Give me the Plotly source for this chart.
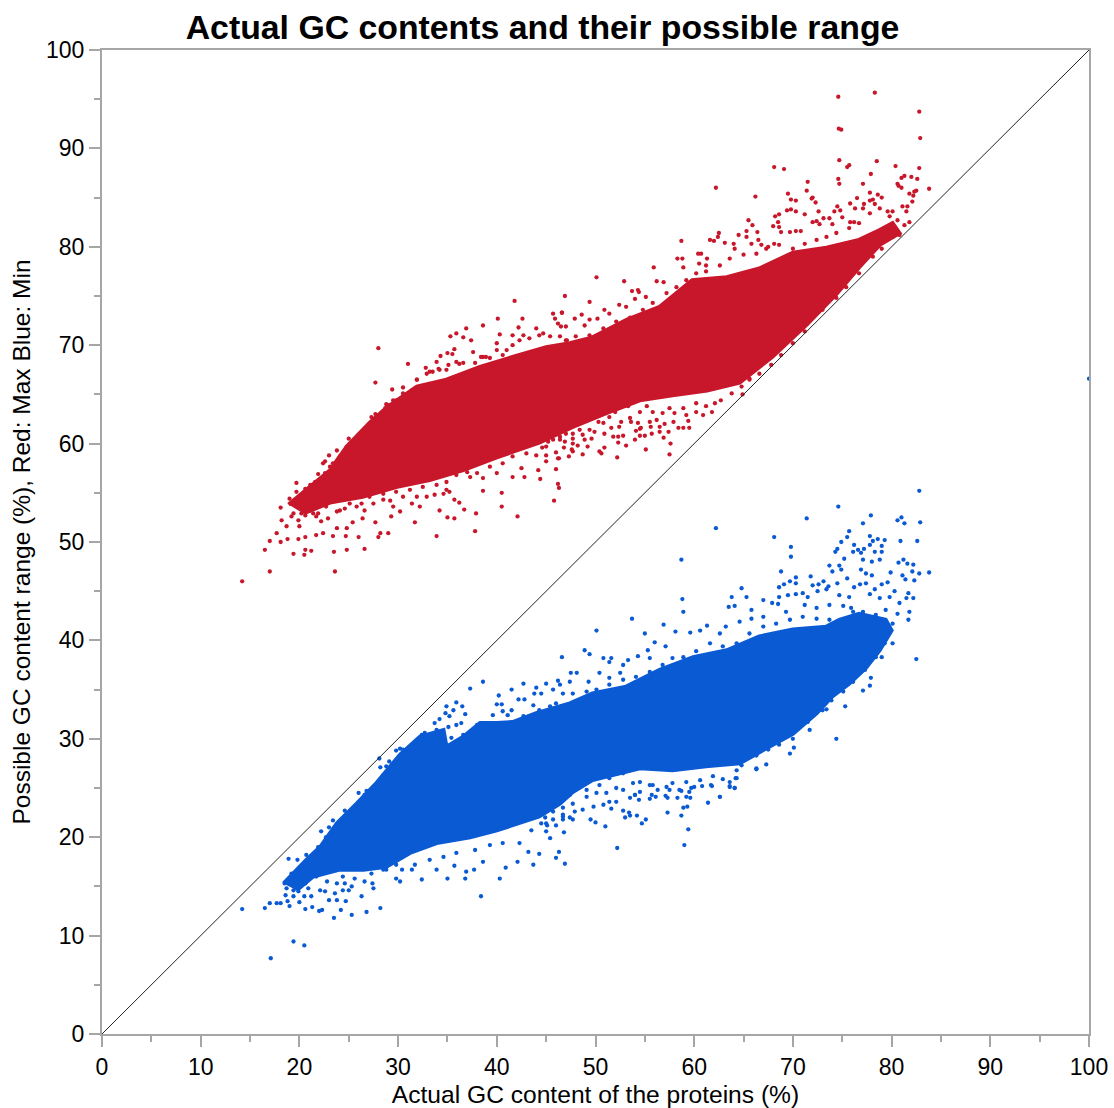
import plotly.graph_objects as go

red_body_x = [18.9,20.7,23.1,24.8,27.1,28.9,31.9,34.9,38.3,41.6,45.0,47.4,49.7,53.2,56.5,59.8,63.3,66.6,70.0,73.4,76.7,78.8,80.1,80.8,78.8,76.7,74.4,71.4,67.9,64.6,61.3,57.8,54.5,51.1,47.7,44.3,40.0,36.6,33.2,29.9,26.4,23.1,20.4]
red_body_y = [53.8,55.3,57.3,59.7,62.1,63.7,65.8,66.5,67.8,68.8,69.8,70.2,70.8,72.6,73.9,76.6,76.9,77.8,79.4,79.9,80.7,81.7,82.4,81.4,80.2,77.9,75.2,72.1,68.8,66.2,65.4,64.9,64.4,63.1,61.7,60.1,58.6,57.3,56.3,55.6,54.6,54.0,52.9]

red_x = [74.6,78.3,82.8,74.65,74.9,82.9,74.7,78.5,75.7,75.5,80.4,82.8,68.1,69.1,77.9,81.3,82.0,81.0,82.6,74.6,74.7,71.5,77.1,80.6,80.7,81.0,62.2,83.8,71.4,69.5,77.8,81.8,82.3,82.5,82.2,78.6,66.2,72.0,71.9,70.3,69.8,76.5,78.1,77.8,79.0,75.8,72.3,77.2,78.3,81.1,81.6,82.1,74.5,76.3,77.1,74.2,74.8,72.6,69.4,69.8,70.3,68.6,68.2,71.2,79.6,80.1,81.5,65.5,65.9,73.1,73.7,75.0,72.0,72.4,72.7,68.5,68.6,68.0,74.0,75.8,76.2,81.8,65.3,66.4,69.7,68.8,70.3,70.8,62.5,62.4,64.5,65.3,58.7,61.6,62.0,63.1,64.0,65.8,66.5,64.1,66.8,67.5,68.1,60.4,60.7,58.3,58.8,58.9,55.9,61.3,60.5,61.2,50.1,52.9,56.2,56.9,46.9,53.7,54.3,54.4,49.4,46.6,54.0,55.1,52.4,53.1,50.9,51.4,47.9,48.6,49.4,48.9,50.2,47.0,
         16.5,17.0,18.1,17.7,19.4,20.5,20.6,21.2,23.5,24.8,26.6,19.9,20.6,18.8,18.2,18.1,19.7,19.0,19.7,18.7,19.2,20.0,20.2,21.1,21.7,22.2,22.9,22.4,21.7,23.8,23.4,24.7,26.0,24.8,25.4,26.4,23.8,24.6,25.8,26.6,27.7,28.0,28.2,29.0,29.3,30.2,29.5,31.7,33.9,34.2,35.0,35.7,36.7,37.9,37.8,36.2,35.7,40.5,40.5,42.1,45.8,46.2,46.3,38.6,41.6,42.8,44.4,46.0,44.2,42.5,45.0,46.2,40.0,38.6,37.3,34.9,33.7,32.2,31.4,28.0,27.7,31.0,29.4,41.8,40.1,42.6,38.6,36.9,35.3,35.9,36.6,37.4,42.2,40.3,44.0,45.7,46.6,45.9,46.2,46.5,35.7,35.0,35.5,34.3,33.9,37.6,38.4,36.2,32.8,33.2,34.2,35.1,31.9,30.5,28.8,29.5,27.3,27.7,25.0,26.0,23.8,23.0,22.6,21.9,40.0,41.6,42.7,44.7,41.0,38.9,14.2,17.0,23.6]
red_y = [95.25,95.66,93.73,92.0,91.9,91.05,88.8,88.7,88.3,88.1,88.2,88.0,88.1,87.9,87.4,87.2,87.1,87.0,86.9,86.9,86.4,86.6,86.4,86.4,86.2,86.0,86.0,85.9,85.7,85.4,85.5,85.4,85.6,85.7,85.2,85.3,85.1,85.0,84.9,84.7,84.8,84.95,84.8,84.7,85.0,84.4,84.5,84.35,84.35,84.1,84.1,84.6,84.1,83.9,83.9,83.6,83.7,83.6,83.7,83.8,83.6,83.3,83.1,83.3,83.6,83.6,83.6,82.7,82.2,82.9,82.9,83.0,82.5,82.6,82.3,82.5,82.0,82.1,82.3,82.5,82.5,82.5,81.6,81.5,81.5,81.5,81.6,81.6,81.4,81.0,81.2,81.0,80.6,80.7,80.6,80.4,80.3,80.3,80.7,79.8,80.2,80.0,80.3,79.3,79.3,78.8,78.8,77.9,77.9,78.8,78.3,78.1,76.9,76.5,76.5,76.4,75.0,75.5,75.6,75.4,74.4,73.3,74.7,74.9,74.1,73.9,73.6,73.2,72.7,73.1,72.6,72.0,72.7,71.9,
         49.2,50.1,50.0,50.9,48.8,48.7,49.2,49.1,49.0,49.2,49.3,50.3,50.5,50.3,52.2,53.5,55.1,54.4,56.0,51.6,52.6,51.6,52.9,53.2,52.6,52.1,52.4,50.9,50.7,51.4,50.6,50.6,50.5,51.4,52.0,52.4,53.1,53.4,53.6,53.2,52.0,50.5,50.9,50.9,52.6,53.1,53.6,52.0,50.6,53.2,52.5,52.4,53.3,52.9,51.1,54.0,54.3,53.6,55.0,52.6,54.2,55.9,55.5,55.2,56.6,56.6,56.4,57.4,57.3,57.5,58.2,58.5,57.0,56.5,56.6,55.3,54.8,53.6,53.9,69.7,66.2,68.1,65.5,74.5,72.7,72.7,72.0,71.7,70.9,71.2,70.8,70.5,71.8,71.1,71.7,73.2,73.3,72.7,72.2,71.9,69.6,69.2,69.1,68.9,68.3,69.3,68.8,68.1,67.7,67.3,67.5,68.0,66.5,65.7,64.0,64.4,62.7,63.0,60.5,60.9,59.3,58.8,58.2,56.9,70.2,71.0,71.0,71.2,69.5,68.8,46.0,47.0,47.0]

red_edge = [(20.6,55.4),(21.1,55.8),(21.6,56.1),(22.6,57),(23.1,57.65),(22.4,58),(23.4,58),(24.1,58.7),(24.8,59.7),(25.1,60),(25.6,60.5),(26.3,61),(26.8,61.4),(27.1,62),(27.8,62.7),(28.7,63.6),(29,63.9),(29.8,64.4),(30.5,65.1),(31.4,65.4),(31.9,66.5),(32.9,67.1),(33.5,67.3),(34.1,67.6),(34.9,67.5),(35.9,68.3),(36.6,68.2),(37.8,68.2),(38.6,68.8),(39.3,68.7),(40,69.5),(40.6,69),(41.6,70),(42.3,70.5),(43.3,70.7),(44.3,71),(45.4,70.9),(46.4,70.9),(47.1,70.5),
            (20.4,53.4),(21.2,53.7),(22.1,54.1),(23.1,54.3),(24.4,54.3),(25.6,54.6),(27.1,54.6),(28.5,54.9),(29.8,55.1),(31.2,55.3),(32.5,55.6),(33.9,55.8),(34.9,56.1),(35.9,56.8),(37,57.1),(38,57),(39.3,57.65),(40.6,58),(41.6,58.7),(43,59),(44,58.8),(45,59.7),(46.4,60.4),(47,61),(19.4,52.9),(19.9,52.2),(20.6,52.7),(21.4,52.9),(21.9,52.9),(22.7,53.6),(24.1,53.2),(25.1,53.9),(26.3,53.9),(27.5,53.9),(28.5,54.3),(29.2,54.2),(30.5,54.6),(31.9,54.6),(32.9,54.6),(34.6,54.9),(35.2,55.1),
            (47,70.5),(48,70.9),(49.4,71),(50.8,71.7),(52.1,72.4),(53.5,72.8),(54.8,73.6),(55.8,74.3),(57.2,75.3),(58.2,75.9),(59.2,76.6),(60.2,77.3),(61.2,77.5),(62.6,78.1),(63.6,78.8),(65,79.2),(66.3,79.3),(67.3,79.8),(68.6,80.2),(70,79.8),(71.2,80.3),(72.4,80.7),(73.4,81),(74.4,81.4),(75.7,81.9),(76.7,82.4),(77.8,83.4),(78.8,83.9),(79.8,83.1),(80.6,82.7),(80.1,82),(81.3,82.2),
            (65.6,66.6),(66.6,67.1),(67.8,68),(68.8,69),(70,70.2),(71.2,71.4),(73,73.6),(74.4,74.8),(75.4,75.9),(76.7,77.3),(78.1,79),(79,79.8),(80.1,81),(80.8,81.2),
            (52.2,58.6),(55.1,59.4),(57.5,58.9),(57.6,60),(53.1,59.8),(52.3,60.1),(51.8,60.7),(52.3,60.7),(52.8,60.8),(54,60.4),(54.5,60.8),(55,60.8),(55.7,61),(56.9,60.6),(56.5,61.2),(57.4,61.2),(54.1,61.3),(54.5,61.5),(54.6,61.6),(55.6,61.7),(56.5,61.7),(57,62),(56.2,62.4),(57.9,62.2),(58.4,61.6),(58.9,61.6),(59.5,61.6),(59.4,62.3),(60.2,63.2),(60.9,62.9),(61.8,63.2),(53.6,62.2),(54.3,62.1),(53.5,62.6),(55.5,62.2),(52.4,61.7),(52.6,62.2),(51.6,61.6),(50.9,61),(50.9,59.6),(50.6,59),(50.4,59.2),(49.2,59.7),(48.7,58.9),(48.2,59.8),(47.7,60),(47.7,59.2),(47.6,59.4),(47.3,58.7),(46.8,59.6),(46.3,58.5),(46,59.1),(45,58.8),(44.6,59.6),(45.7,60.4),(46.9,60.2),(47.7,60.5),(48.9,60.4),(49.6,60.5),(49.9,61.2),(48.7,60.9),(50.3,62.2),(49.4,61.4),(50.8,62.1),(51.4,62.7),(48.4,61.4),(47.7,61),(46.4,60.7),(45.2,60.2),(62.1,64.1),(62.7,64.4),(63.8,65.1),(64.8,65.8),(64.9,65),(65.6,66.5),(59.2,62.9),(58,63.1),(56.8,63.1),(55.8,63.2),(54.5,63.2),(60.2,64.1),(61.2,63.8),(58.9,63.6),(57.5,63.6),(55.2,63.8),(53.3,63.8),(52,63.2),(50.3,63.1)]

blue_body_x = [18.4,20.7,22.1,23.8,25.8,27.8,30.2,32.2,34.6,34.9,36.6,38.3,40.0,41.6,44.0,47.4,49.7,53.1,56.5,59.9,63.3,66.6,70.0,73.4,74.7,76.7,79.4,80.0,78.8,77.4,75.7,74.0,72.4,70.0,67.6,64.6,61.2,57.8,54.5,51.8,49.7,47.7,46.4,44.3,40.0,37.3,33.9,31.2,28.8,26.5,24.1,21.4,19.7]
blue_body_y = [15.3,17.7,19.0,21.4,23.4,25.5,28.4,30.2,30.9,29.2,30.2,31.6,31.6,31.7,32.6,33.6,34.6,35.3,37.0,38.3,39.0,40.4,41.1,41.4,42.1,42.7,42.1,41.0,39.0,37.2,35.6,34.3,32.6,30.5,29.2,27.5,27.2,26.8,27.0,26.3,25.8,24.6,23.4,22.1,20.7,20.0,19.4,18.4,17.0,16.7,16.7,16.0,14.6]

blue_x = [82.8,74.6,71.4,77.9,81.0,80.6,81.3,82.9,77.1,62.2,75.7,75.5,68.1,74.9,77.8,78.1,78.6,79.3,80.9,82.6,76.2,74.5,74.3,69.8,69.8,58.7,76.6,77.2,78.3,79.0,76.9,77.8,79.0,76.1,77.1,78.0,78.8,75.2,80.7,81.2,82.2,81.6,73.7,74.7,74.9,74.0,68.8,83.8,82.1,82.8,79.9,76.9,77.4,78.0,81.1,81.4,82.3,70.3,69.7,71.8,70.3,69.1,68.6,73.1,72.6,72.0,73.6,72.5,73.4,75.5,74.5,76.8,77.4,79.0,79.6,76.2,78.3,80.3,64.8,81.7,82.2,81.5,63.8,65.3,58.8,58.9,67.0,68.6,69.5,70.3,71.0,71.5,63.5,64.1,65.8,67.9,68.5,74.7,75.7,77.8,78.8,79.8,80.8,53.7,56.9,50.1,55.0,58.1,61.3,59.6,60.6,56.0,57.1,55.3,48.9,49.4,46.6,50.8,51.6,51.4,54.3,53.3,52.8,47.5,48.1,50.4,52.5,51.4,49.3,47.4,46.4,55.5,62.6,63.2,64.6,65.8,67.0,69.3,71.2,72.4,73.7,75.1,75.9,81.8,80.6,81.7,80.1,82.5,79.0,77.9,77.8,77.1,75.3,74.4,73.4,71.7,70.1,69.7,67.3,66.3,64.2,64.1,62.6,63.6,61.7,60.6,59.7,58.5,57.2,55.8,54.5,54.0,52.8,51.4,50.4,49.1,47.4,
          14.2,16.5,17.1,19.4,20.5,17.0,17.7,18.1,19.0,18.8,20.0,20.6,21.3,22.0,22.3,23.5,24.2,25.3,26.8,28.2,26.3,24.7,23.8,23.0,21.2,20.5,18.6,19.4,22.6,23.6,24.4,25.0,27.5,27.4,30.2,29.8,32.4,35.0,36.8,36.9,37.7,38.4,40.3,40.9,42.1,43.7,46.0,46.9,46.3,43.2,44.3,38.6,35.7,33.9,31.4,30.4,28.8,26.6,25.3,22.8,22.1,20.9,18.9,19.8,20.7,22.2,23.0,23.4,24.6,26.0,26.8,28.1,29.1,28.2,28.8,29.8,30.2,32.4,33.7,34.2,34.9,35.9,36.5,35.6,34.8,35.2,36.8,35.1,35.9,36.4,35.4,37.3,38.6,40.0,40.5,40.2,41.5,40.6,42.2,42.8,43.8,42.7,45.0,46.2,44.0,45.7,44.5,43.7,45.4,46.7,41.5,39.6,38.0,37.3,100.0]
blue_y = [55.2,53.6,52.4,52.7,52.5,52.2,51.9,52.0,51.9,51.4,51.1,50.5,50.5,50.0,50.6,50.1,50.3,50.2,50.1,50.1,49.7,49.3,49.0,49.5,48.5,48.2,49.2,49.3,49.0,49.0,48.9,49.7,49.6,49.0,48.2,48.0,48.2,48.3,47.9,48.2,47.7,47.8,47.6,47.6,47.2,47.0,47.0,46.9,47.0,46.8,46.9,47.2,46.8,46.6,46.6,46.2,46.1,46.4,46.0,46.5,45.8,45.7,45.4,46.0,45.7,45.6,45.5,45.0,45.2,46.3,45.8,45.7,45.8,45.7,45.9,45.4,45.2,45.0,45.3,44.8,44.3,44.3,44.4,44.4,44.2,42.9,44.1,44.4,44.6,44.7,44.8,44.4,43.4,43.5,43.1,43.8,43.7,44.6,44.4,44.7,44.3,44.4,43.8,42.2,41.6,41.0,40.7,40.9,41.5,40.8,41.0,39.8,39.4,39.0,39.0,38.6,38.3,38.2,38.2,37.8,38.4,38.0,37.5,36.7,36.7,36.7,36.7,36.2,35.8,35.8,35.5,38.2,40.7,41.4,41.9,42.2,42.4,42.9,43.6,43.3,43.6,43.5,43.3,42.9,42.7,42.1,39.7,38.1,38.3,36.2,35.4,34.9,33.3,30.0,33.0,30.9,29.1,28.5,27.4,26.9,26.0,25.0,24.1,25.1,25.3,25.8,25.0,24.8,25.1,25.3,25.6,24.3,26.5,26.0,25.3,24.8,24.3,
          12.7,12.8,7.7,9.4,9.0,13.3,13.3,13.3,13.0,13.5,13.4,12.7,12.9,12.5,12.6,11.8,12.6,12.1,12.4,12.8,14.0,13.5,13.6,13.6,14.0,14.0,14.1,14.0,14.5,14.3,14.6,14.6,14.8,15.3,15.5,15.8,15.7,15.8,15.8,16.5,16.7,14.0,15.8,16.9,17.5,17.2,17.9,17.3,18.5,18.5,18.3,17.5,17.1,16.7,16.7,16.7,16.7,15.5,15.0,15.5,14.6,14.8,17.8,17.7,18.2,20.6,21.0,21.7,22.7,24.5,24.7,28.0,27.7,27.1,27.2,28.8,29.0,30.4,31.6,32.0,33.3,33.7,33.3,32.9,32.6,32.3,32.5,31.2,31.4,31.6,30.1,35.1,35.8,33.5,33.5,34.4,35.0,32.8,34.0,34.0,34.6,35.6,35.6,35.9,35.2,35.0,34.6,33.4,33.3,34.6,32.9,32.4,31.4,30.7,66.6]

blue_edge = [(46.7,33.3),(47.7,34.6),(49.1,34.8),(50.1,35),(51.4,35.5),(52.8,36),(54.1,36.3),(55.5,36.8),(56.8,37.5),(57.8,38.2),(58.9,38.3),(60.2,38.9),(61.6,39.7),(62.9,39.4),(64.3,39.7),(65.6,40.7),(67,41.4),(68.3,41.7),(69.7,42.1),(71,42.4),(72.4,42.2),(73.7,42.1),(75.1,42.1),(76.1,42.9),(77.1,42.9),(78.4,42.6),(79.4,43.1),(80.1,41.7),(79.6,40.7),(79.3,39.7),(78.4,38.3),(77.3,37),(76.1,35.8),(75.1,34.8),(73.9,33.9),(73,32.9),(71.5,31.7),(70,30),(68.6,29.4),(67.5,28.9),(66.3,28.3),(64.8,27.3),
             (18.5,15.3),(19.2,16.3),(20,16.8),(21.1,17.5),(21.9,19),(22.7,20),(23.8,21.1),(24.6,22.1),(25.6,22.9),(26.6,24.3),(27.5,25.1),(28.5,26.3),(29.5,27.2),(30.5,28.9),(31.5,29.4),(32.7,30.6),(33.9,30.9),(34.6,30.2),(34.1,28.9),(34.6,28.4),(33.5,28.2),(32.9,27.7),(36.6,30.4),(37.6,30.9),(38.9,31.6),(40.3,31.6),(41.1,32.4),(42.7,32.3),(44.3,32.9),(46,33.6),
             (18.7,14.8),(19.4,14.6),(19.9,14.5),(20.6,15.3),(21.7,16),(23.1,16.7),(23.8,15.3),(24.6,15.3),(25.6,15.8),(27.3,16.3),(28.5,16.7),(29.8,17.2),(31.7,17.2),(33.2,17.7),(34.6,18),(35.9,18.4),(37.8,18.7),(39.3,19.2),(40.6,19.4),(42.3,19.4),(43.5,20.7),(45,21.4),(46.7,22.1),(24.4,16),(23.4,16.7),(20.2,16),(19,15.8),
             (52.2,18.9),(59,19.2),(59.4,20.8),(45.4,19.9),(46.8,20.5),(45,20.6),(45.1,21.2),(46,21.2),(44.5,21.4),(51,21.1),(50,21.5),(49.5,21.8),(46.7,21.8),(45.7,21.8),(47.7,21.8),(47.4,22),(47.9,22.6),(46.7,22.3),(53,22),(53.5,22.2),(54.2,22.2),(53.4,22.5),(52.8,22.7),(54.7,21.4),(55.1,21.8),(57.3,22.5),(58.7,22.2),(58.9,23),(59.3,23.1),(61.4,23.5),(62.6,24.1),(51.6,22.9),(49.8,23.1),(48.7,22.8),(50.8,23.3),(52.1,23.6),(51.4,23.6),(53.5,24),(54.4,23.8),(54,24.3),(55.5,23.9),(56.1,24.1),(55.7,24.3),(57.3,24),(57.1,24.2),(58.3,24),(59.2,24.1),(59.6,24),(59.5,24.6),(57.5,24.8),(56.3,24.8),(54.5,24.6),(58.7,24.7),(60,25.1),(60.8,25.2),(61.8,25.2),(63.6,25.2),(64.1,25),(62.9,25.9),(64.3,26),(63.6,25.6),(66.3,27),(64.3,26.8),(52.8,24.8),(50.1,24.5),(49.1,24.1),(47.7,23.4),(46.7,23),(45.7,22.6),(44.9,22),(51.1,24.5),(52.1,25),(55.5,25.3),(57.8,25.5),(61.9,26.2),(59.2,25.6),(53.8,25.5)]

diag_x = [0, 100]
diag_y = [0, 100]
tick_vals = [0, 10, 20, 30, 40, 50, 60, 70, 80, 90, 100]
minor_vals = [5, 15, 25, 35, 45, 55, 65, 75, 85, 95]

RED = "#C8172B"
BLUE = "#0A5AD4"
AXIS = "#A6A6A6"
FONT = "Liberation Sans, Arial, sans-serif"

fig = go.Figure()
for bx, by, px, py, edge, color, name in [
    (red_body_x, red_body_y, red_x, red_y, red_edge, RED, "Max"),
    (blue_body_x, blue_body_y, blue_x, blue_y, blue_edge, BLUE, "Min"),
]:
    fig.add_trace(go.Scatter(x=bx, y=by, mode="lines", fill="toself", fillcolor=color,
                             line=dict(color=color, width=4), name=name, hoverinfo="skip"))
    fig.add_trace(go.Scatter(x=px + [p[0] for p in edge], y=py + [p[1] for p in edge], mode="markers", name=name,
                             marker=dict(color=color, size=4.3, line=dict(width=0))))
fig.add_trace(go.Scatter(x=diag_x, y=diag_y, mode="lines", line=dict(color="#222222", width=1),
                         hoverinfo="skip", name="x = y"))

axis_common = dict(
    range=[0, 100], tickmode="array", tickvals=tick_vals, ticks="outside", ticklen=11, tickwidth=2,
    tickcolor=AXIS, linecolor=AXIS, linewidth=2, mirror=True, showgrid=False, zeroline=False, automargin=False,
    tickfont=dict(family=FONT, size=23, color="#000000"),
    minor=dict(tickmode="array", tickvals=minor_vals, ticks="outside",
               ticklen=6, tickwidth=2, tickcolor=AXIS, showgrid=False),
)
fig.update_layout(
    width=1114, height=1108, autosize=False, showlegend=False,
    margin=dict(l=102, r=24.5, t=49.5, b=74, pad=0),
    paper_bgcolor="white", plot_bgcolor="white",
    title=dict(text="<b>Actual GC contents and their possible range</b>", x=0.487, xanchor="center",
               y=0.9755, yanchor="middle", font=dict(family=FONT, size=33.8, color="#000000")),
    xaxis=dict(axis_common, title=dict(text="Actual GC content of the proteins (%)", standoff=8,
                                       font=dict(family=FONT, size=24.6, color="#000000"))),
    yaxis=dict(axis_common, title=dict(text="Possible GC content range (%), Red: Max Blue: Min", standoff=8,
                                       font=dict(family=FONT, size=24.5, color="#000000"))),
)
fig.write_html("out.html", config={"displayModeBar": False},
               post_script="document.body.style.margin='0';document.body.style.overflow='hidden';")
